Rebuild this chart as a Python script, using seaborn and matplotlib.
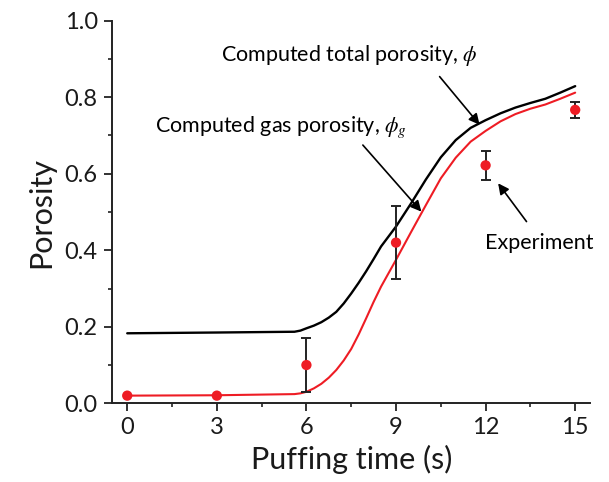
import numpy as np
import pandas as pd
import matplotlib
matplotlib.use("Agg")
import matplotlib.pyplot as plt
from matplotlib.ticker import MultipleLocator
import seaborn as sns

# Model curves: porosity vs. puffing time
t_model = [0, 3, 5.6, 5.8, 6.0, 6.25, 6.5, 6.75, 7.0, 7.25, 7.5, 7.75, 8.0, 8.25,
           8.5, 9.0, 9.5, 10.0, 10.5, 11.0, 11.5, 12.0, 12.5, 13.0, 13.5, 14.0,
           14.5, 15.0]
total_porosity = [0.183, 0.185, 0.187, 0.190, 0.196, 0.203, 0.212, 0.224, 0.239,
                  0.261, 0.287, 0.315, 0.345, 0.377, 0.410, 0.462, 0.522, 0.585,
                  0.643, 0.688, 0.720, 0.740, 0.758, 0.773, 0.785, 0.796, 0.812,
                  0.829]
gas_porosity = [0.020, 0.021, 0.024, 0.026, 0.030, 0.039, 0.051, 0.067, 0.087,
                0.112, 0.142, 0.180, 0.222, 0.265, 0.305, 0.375, 0.447, 0.518,
                0.588, 0.642, 0.684, 0.712, 0.737, 0.756, 0.770, 0.781, 0.796,
                0.812]

# Measured porosity with error
t_exp = [0, 3, 6, 9, 12, 15]
porosity_exp = [0.020, 0.020, 0.100, 0.420, 0.622, 0.767]
porosity_err = [0.0, 0.0, 0.070, 0.095, 0.038, 0.020]

x_ticks = [0, 3, 6, 9, 12, 15]
y_ticks = [0.0, 0.2, 0.4, 0.6, 0.8, 1.0]

sns.set_style("ticks")
plt.rcParams["font.family"] = ["Lato", "DejaVu Sans"]
plt.rcParams["mathtext.fontset"] = "stix"

fig = plt.figure(figsize=(6.09, 4.82), dpi=100)
ax = fig.add_axes([0.1844, 0.1633, 0.7846, 0.7937])

model = pd.DataFrame({"t": t_model, "total": total_porosity, "gas": gas_porosity})
exp = pd.DataFrame({"t": t_exp, "p": porosity_exp, "err": porosity_err})

sns.lineplot(data=model, x="t", y="total", ax=ax, color="black", lw=1.7)
sns.lineplot(data=model, x="t", y="gas", ax=ax, color="#ee1c24", lw=1.5)

has_err = exp["err"] > 0
ax.errorbar(exp.loc[has_err, "t"], exp.loc[has_err, "p"], yerr=exp.loc[has_err, "err"],
            fmt="none", ecolor="#222222", elinewidth=1.4, capsize=3.5, capthick=1.4, zorder=3)
sns.scatterplot(data=exp, x="t", y="p", ax=ax, color="#ee1c24", s=55,
                edgecolor="none", zorder=4)

ax.set_xlim(-0.5, 15.5)
ax.set_ylim(0.0, 1.0)
ax.set_xticks(x_ticks)
ax.set_yticks(y_ticks)
ax.set_yticklabels([f"{v:.1f}" for v in y_ticks])
ax.xaxis.set_minor_locator(MultipleLocator(1.5))
ax.yaxis.set_minor_locator(MultipleLocator(0.1))

for s in ("top", "right"):
    ax.spines[s].set_visible(False)
for s in ("left", "bottom"):
    ax.spines[s].set_linewidth(1.4)
    ax.spines[s].set_color("#222222")

ax.tick_params(axis="both", which="major", direction="out", length=5.5, width=1.3,
               colors="#222222", labelsize=17, labelcolor="#1a1a1a")
ax.tick_params(axis="both", which="minor", direction="out", length=3.2, width=1.2,
               colors="#222222")
ax.tick_params(axis="x", which="major", length=6, pad=4)
ax.tick_params(axis="y", which="major", pad=5)

ax.set_xlabel("Puffing time (s)", fontsize=22, color="#1a1a1a", labelpad=5)
ax.set_ylabel("Porosity", fontsize=22, color="#1a1a1a", labelpad=7)

arrow = dict(arrowstyle="-|>", color="black", lw=1.2, mutation_scale=16,
             shrinkA=0, shrinkB=0)
ax.annotate("", xy=(11.8, 0.728), xytext=(10.46, 0.854), arrowprops=arrow)
ax.annotate("", xy=(9.85, 0.501), xytext=(7.89, 0.675), arrowprops=arrow)
ax.annotate("", xy=(12.42, 0.575), xytext=(13.37, 0.475), arrowprops=arrow)

ax.text(7.45, 0.908, r"Computed total porosity, $\phi$", fontsize=15.5,
        ha="center", va="center", color="black")
ax.text(5.15, 0.722, r"Computed gas porosity, $\phi_g$", fontsize=15.5,
        ha="center", va="center", color="black")
ax.text(13.78, 0.419, "Experiment", fontsize=15.5, ha="center", va="center", color="black")

fig.savefig("out.png", dpi=100)
